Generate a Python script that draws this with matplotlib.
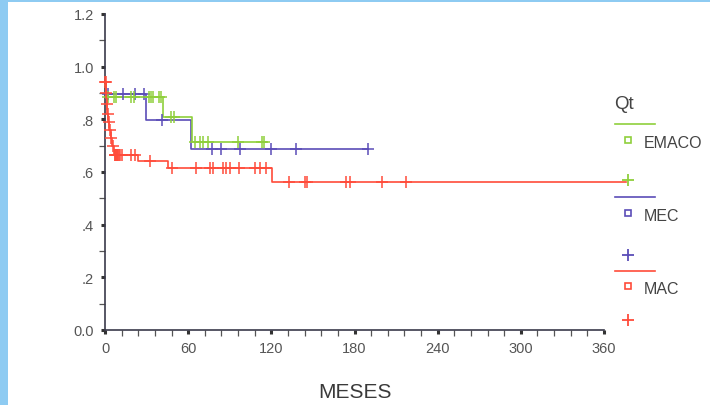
import numpy as np
import matplotlib
matplotlib.use("Agg")
import matplotlib.pyplot as plt
from matplotlib.lines import Line2D
from matplotlib.patches import Rectangle

plt.rcParams["font.family"] = ["Liberation Sans", "DejaVu Sans"]

# ---- data ----
groups = ["EMACO", "MEC", "MAC"]
colors = ["#8fcf3c", "#5b4db8", "#ff4b3a"]

emaco_step_t = [0, 1, 42, 62.5]
emaco_step_s = [0.93, 0.885, 0.81, 0.715]
emaco_end = 116.5
emaco_cens = [2.5, 6.5, 8, 18.5, 21, 31.5, 33, 34.5, 39, 40.5, 47.5, 50,
              65, 68.5, 71, 74.5, 96, 113, 114.5]

mec_step_t = [0, 1, 29.3, 62.4]
mec_step_s = [0.94, 0.897, 0.797, 0.686]
mec_end = 190
mec_cens = [2, 13, 21.5, 28, 41, 77.5, 84, 97.5, 119.5, 138, 189.5]

mac_step_t = [0, 0.7, 1.2, 1.8, 2.4, 3, 4, 5, 6.5, 24, 45.5, 120.5]
mac_step_s = [0.94, 0.90, 0.86, 0.82, 0.79, 0.76, 0.73, 0.70, 0.665, 0.64, 0.614, 0.563]
mac_end = 376
mac_cens = [0.3, 0.5, 0.9, 1.4, 2, 2.6, 3.5, 4.5, 5.5, 7, 7.5, 8, 8.5, 9, 9.5, 10,
            11, 12, 19, 21.5, 32.5, 48, 66, 75.5, 78, 85, 87.5, 90, 97, 108,
            111.5, 116.5, 132.5, 144.5, 145.5, 174, 176.5, 200, 217]

x_ticks = [0, 60, 120, 180, 240, 300, 360]
y_ticks = [0.0, 0.2, 0.4, 0.6, 0.8, 1.0, 1.2]
y_labels = ["0.0", ".2", ".4", ".6", ".8", "1.0", "1.2"]

W, H = 710, 406
fig = plt.figure(figsize=(W / 100, H / 100), dpi=100)
fig.patch.set_facecolor("white")

# scan frame
fig.add_artist(Rectangle((0, 0), 8 / W, 1, transform=fig.transFigure,
                         color="#8ecbf2", lw=0, zorder=0))
fig.add_artist(Rectangle((0, 1 - 3 / H), 1, 3 / H, transform=fig.transFigure,
                         color="#8ecbf2", lw=0, zorder=0))

ax = fig.add_axes([105 / W, 75 / H, 499 / W, 316 / H])
ax.set_facecolor("none")

def draw(step_t, step_s, end, cens, color):
    t = list(step_t) + [end]
    s = list(step_s) + [step_s[-1]]
    ax.step(t, s, where="post", color=color, lw=1.2, clip_on=False, zorder=3)
    idx = np.searchsorted(step_t, cens, side="right") - 1
    cs = [step_s[i] for i in idx]
    ax.plot(cens, cs, ls="none", marker="+", ms=8, mew=1.1, color=color,
            clip_on=False, zorder=4)

draw(mec_step_t, mec_step_s, mec_end, mec_cens, colors[1])
draw(emaco_step_t, emaco_step_s, emaco_end, emaco_cens, colors[0])
draw(mac_step_t, mac_step_s, mac_end, mac_cens, colors[2])

ax.set_xlim(0, 360)
ax.set_ylim(0, 1.2)
for sp in ["top", "right"]:
    ax.spines[sp].set_visible(False)
for sp in ["left", "bottom"]:
    ax.spines[sp].set_color("#3a3a4a")
    ax.spines[sp].set_linewidth(1.2)

ax.set_xticks(x_ticks)
ax.set_xticks(np.arange(0, 361, 12), minor=True)
ax.set_yticks(y_ticks)
ax.set_yticklabels(y_labels)
ax.set_yticks(np.arange(0, 1.21, 0.1), minor=True)
ax.tick_params(which="major", length=3, width=2.2, color="#333333",
               labelsize=10.5, labelcolor="#555555", pad=5)
ax.tick_params(which="minor", length=4, width=0.9, color="#555555")

fig.text(355 / W, 1 - 393 / H, "MESES", ha="center", va="center",
         fontsize=15, color="#3a3a3a")

# legend
fig.text(614 / W, 1 - 105 / H, "Qt", ha="left", va="center",
         fontsize=13.5, color="#444444")
leg_rows = [(125, 141, 181), (198, 214, 256), (272, 287, 321)]
for (yl, ysq, yplus), name, col in zip(leg_rows, groups, colors):
    fig.add_artist(Line2D([615 / W, 655 / W], [1 - yl / H, 1 - yl / H],
                          transform=fig.transFigure, color=col, lw=1.2))
    fig.add_artist(Line2D([628 / W], [1 - ysq / H], transform=fig.transFigure,
                          marker="s", ms=5, mfc="none", mec=col, mew=1.2, ls="none"))
    fig.text(644 / W, 1 - (ysq + 3) / H, name, ha="left", va="center",
             fontsize=11.5, color="#444444")
    fig.add_artist(Line2D([628 / W], [1 - yplus / H], transform=fig.transFigure,
                          marker="+", ms=9, mew=1.3, color=col, ls="none"))

fig.savefig("out.png", dpi=100)
